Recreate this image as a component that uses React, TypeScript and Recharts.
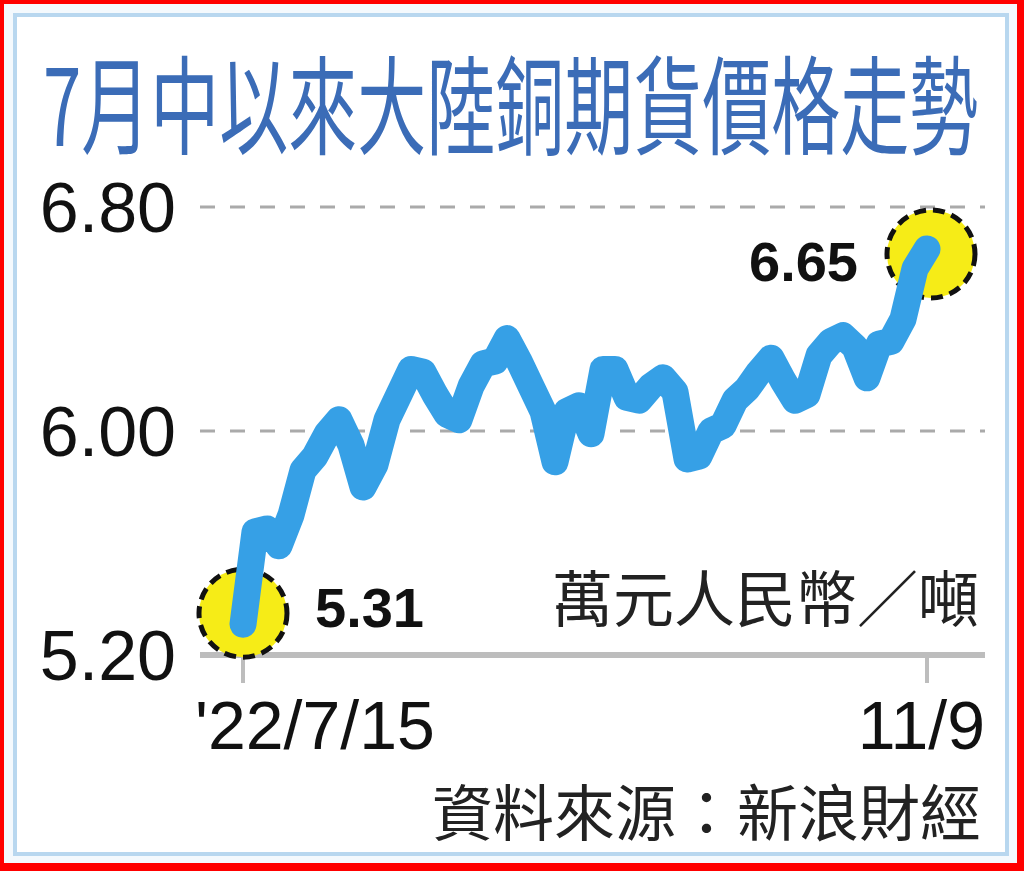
import React from 'react';
import { LineChart, Line, XAxis, YAxis, CartesianGrid } from 'recharts';

const title = '7月中以來大陸銅期貨價格走勢';
const unitText = '萬元人民幣／噸';
const sourceText = '資料來源：新浪財經';

// 萬元人民幣／噸, one point per step from 7/15 to 11/9
const prices = [
  5.31, 5.64, 5.65, 5.59, 5.70, 5.86, 5.91, 5.99, 6.04, 5.95,
  5.80, 5.88, 6.04, 6.13, 6.22, 6.21, 6.13, 6.06, 6.04, 6.16,
  6.24, 6.25, 6.33, 6.25, 6.16, 6.07, 5.89, 6.07, 6.09, 5.99,
  6.22, 6.22, 6.12, 6.11, 6.16, 6.19, 6.14, 5.90, 5.91, 6.00,
  6.02, 6.11, 6.15, 6.21, 6.26, 6.18, 6.11, 6.13, 6.27, 6.32,
  6.34, 6.30, 6.19, 6.31, 6.32, 6.40, 6.58, 6.65,
];
const xLabels = ["'22/7/15", '11/9'];
const yTicks = [5.2, 6.0, 6.8];

const data = prices.map((v, i) => ({ idx: i, price: v }));
const lastIdx = prices.length - 1;

const LINE_BLUE = '#36a0e6';
const GRID_GRAY = '#aaaaaa';
const AXIS_GRAY = '#bdbdbd';

const W = 1024;
const H = 871;
const Y_AXIS_W = 200;
const X_AXIS_H = 80;
const chartMargin = { top: 207, right: 39, bottom: 136, left: 0 };
// hidden axes take no room, so the overlay chart gets their room as margin
const overlayMargin = {
  top: chartMargin.top,
  right: chartMargin.right,
  bottom: chartMargin.bottom + X_AXIS_H,
  left: chartMargin.left + Y_AXIS_W,
};
const xPadding = { left: 43, right: 58 };

const YTick = (props: any) => {
  const { x, y, payload } = props;
  return (
    <text x={x + 2} y={y + 25} textAnchor="end" fontFamily="'Liberation Sans', Arial, sans-serif" fontSize={70} fill="#111">
      {payload.value.toFixed(2)}
    </text>
  );
};

const XTick = (props: any) => {
  const { x, y, payload } = props;
  const first = payload.value === 0;
  return (
    <text
      x={first ? x - 48 : x + 58}
      y={y + 66}
      textAnchor={first ? 'start' : 'end'}
      fontFamily="'Liberation Sans', Arial, sans-serif"
      fontSize={68}
      fill="#111"
    >
      {first ? xLabels[0] : xLabels[1]}
    </text>
  );
};

// yellow dashed circles and value labels at the first and last points
const EndDot = (props: any) => {
  const { cx, cy, index, value } = props;
  if (index !== 0 && index !== lastIdx) return <g key={index} />;
  const first = index === 0;
  const ox = first ? 0 : 4;
  const oy = first ? -11 : 5;
  return (
    <g key={index}>
      <circle cx={cx + ox} cy={cy + oy} r={44} fill="#f6ec17" stroke="#111" strokeWidth={5} strokeDasharray="12 7" />
      <text
        x={first ? cx + 72 : cx - 69}
        y={first ? cy + 3 : cy + 32}
        textAnchor={first ? 'start' : 'end'}
        fontFamily="'Liberation Sans', Arial, sans-serif"
        fontWeight="bold"
        fontSize={56}
        fill="#111"
      >
        {value.toFixed(2)}
      </text>
    </g>
  );
};

export default function App() {
  return (
    <div style={{ position: 'absolute', left: 0, top: 0, width: W, height: H, background: '#ff0000', overflow: 'hidden' }}>
      <div style={{ position: 'absolute', left: 4, top: 4, width: 1013, height: 859, background: '#f4f9fd' }} />
      <div style={{ position: 'absolute', left: 13, top: 13, width: 988, height: 835, border: '4px solid #b8d7ef', background: '#ffffff' }} />

      {/* axes, grid and the marked end points */}
      <div style={{ position: 'absolute', left: 0, top: 0 }}>
        <LineChart width={W} height={H} data={data} margin={chartMargin}>
          <CartesianGrid vertical={false} stroke={GRID_GRAY} strokeWidth={3} strokeDasharray="15 15" />
          <XAxis
            dataKey="idx"
            type="number"
            domain={[0, lastIdx]}
            ticks={[0, lastIdx]}
            padding={xPadding}
            height={X_AXIS_H}
            axisLine={{ stroke: AXIS_GRAY, strokeWidth: 6 }}
            tickLine={{ stroke: AXIS_GRAY, strokeWidth: 4 }}
            tickSize={28}
            tickMargin={0}
            tick={<XTick />}
          />
          <YAxis
            type="number"
            domain={[5.2, 6.8]}
            ticks={yTicks}
            width={Y_AXIS_W}
            axisLine={false}
            tickLine={false}
            tickMargin={20}
            tick={<YTick />}
          />
          <Line dataKey="price" stroke="none" dot={<EndDot />} activeDot={false} isAnimationActive={false} />
        </LineChart>
      </div>

      {/* the price line, drawn on top of the circles with the same scales */}
      <div style={{ position: 'absolute', left: 0, top: 0, pointerEvents: 'none' }}>
        <LineChart width={W} height={H} data={data} margin={overlayMargin}>
          <XAxis dataKey="idx" type="number" domain={[0, lastIdx]} padding={xPadding} hide />
          <YAxis type="number" domain={[5.2, 6.8]} hide />
          <Line
            dataKey="price"
            type="linear"
            stroke={LINE_BLUE}
            strokeWidth={27}
            strokeLinejoin="round"
            strokeLinecap="round"
            dot={false}
            activeDot={false}
            isAnimationActive={false}
          />
        </LineChart>
      </div>

      <svg width={W} height={H} style={{ position: 'absolute', left: 0, top: 0, pointerEvents: 'none' }}>
        {/* the title face is tall and narrow: a normal-width run stretched upward */}
        <g transform="scale(1 1.55)">
          <text x={43} y={94} fontFamily="'Noto Sans CJK TC', sans-serif" fontWeight={400} fontSize={69} fill="#3b6cb7">
            {title}
          </text>
        </g>
        <text x={552} y={622} fontFamily="'Noto Sans CJK TC', sans-serif" fontSize={61} fill="#222">
          {unitText}
        </text>
        <text x={432} y={836} fontFamily="'Noto Sans CJK TC', sans-serif" fontSize={61} fill="#222">
          {sourceText}
        </text>
      </svg>
    </div>
  );
}
